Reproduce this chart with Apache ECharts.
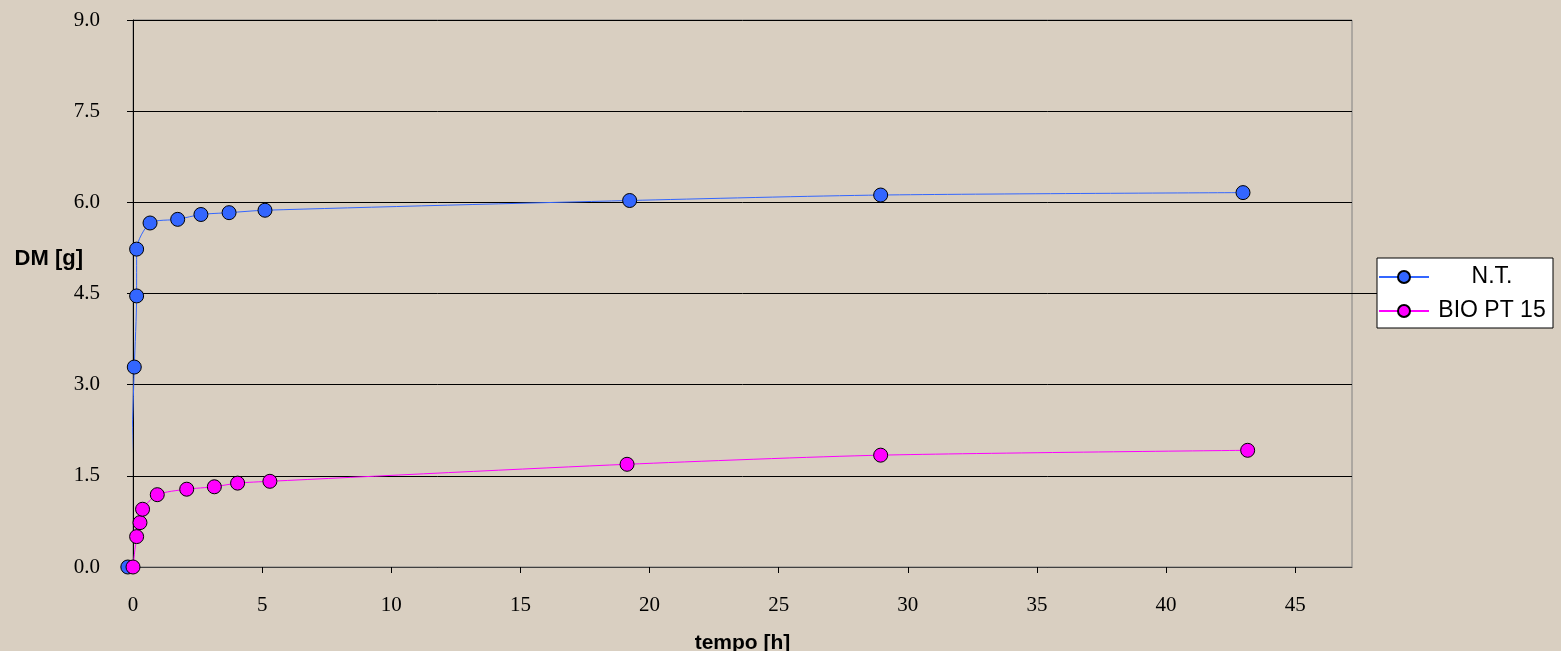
<!DOCTYPE html>
<html><head><meta charset="utf-8">
<script src="https://cdn.jsdelivr.net/npm/echarts@6/dist/echarts.min.js"></script>
<style>html,body{margin:0;padding:0;background:#D9CFC1;}#c{width:1561px;height:651px;}</style>
</head><body><div id="c"></div>
<script>
const seriesNames = ['N.T.', 'BIO PT 15'];
const ntX = [-0.2, 0.05, 0.14, 0.14, 0.66, 1.73, 2.63, 3.72, 5.11, 19.23, 28.95, 42.98];
const ntY = [0.0, 3.29, 4.46, 5.23, 5.66, 5.72, 5.80, 5.83, 5.87, 6.03, 6.12, 6.16];
const bioX = [0.0, 0.14, 0.27, 0.37, 0.94, 2.08, 3.15, 4.05, 5.30, 19.13, 28.95, 43.16];
const bioY = [0.0, 0.50, 0.73, 0.95, 1.19, 1.28, 1.32, 1.38, 1.41, 1.69, 1.84, 1.92];
const xTicks = [0, 5, 10, 15, 20, 25, 30, 35, 40, 45];
const yTicks = [0, 1.5, 3, 4.5, 6, 7.5, 9];
const xName = 'tempo [h]';
const yName = 'DM [g]';

const pairs = (xs, ys) => xs.map((x, i) => [x, ys[i]]);
const chart = echarts.init(document.getElementById('c'), null, {renderer: 'canvas'});
const serif = '"Liberation Serif", "Times New Roman", serif';
const sans = '"Liberation Sans", Arial, sans-serif';
chart.setOption({
  backgroundColor: '#D9CFC1',
  animation: false,
  grid: {left: 133, top: 20, right: 209, bottom: 84, show: true, borderColor: '#808080', borderWidth: 1,
         backgroundColor: 'transparent', containLabel: false, outerBoundsMode: 'none'},
  legend: {
    orient: 'vertical', left: 1377, top: 258,
    backgroundColor: '#FFFFFF', borderColor: '#000', borderWidth: 1,
    padding: [7, 3, 5, 1], itemGap: 10, itemWidth: 50, itemHeight: 15, itemTextGap: 8,
    formatter: '{c|{name}}',
    textStyle: {fontFamily: sans, fontSize: 23, lineHeight: 24, color: '#000',
      rich: {c: {fontFamily: sans, fontSize: 23, lineHeight: 24, color: '#000', width: 116, align: 'center'}}},
    data: seriesNames
  },
  xAxis: {
    type: 'value', min: 0, max: 47.2,
    name: xName, nameLocation: 'middle', nameGap: 66, nameMoveOverlap: false,
    nameTextStyle: {fontFamily: sans, fontSize: 21, fontWeight: 'bold', color: '#000'},
    axisLine: {show: true, onZero: false, lineStyle: {color: '#404040', width: 1}},
    axisTick: {show: true, inside: false, length: 6, lineStyle: {color: '#000'}, customValues: xTicks},
    axisLabel: {fontFamily: serif, fontSize: 21, color: '#000', margin: 28, customValues: xTicks},
    splitLine: {show: false}
  },
  yAxis: {
    type: 'value', min: 0, max: 9, interval: 1.5,
    name: yName, nameLocation: 'middle', nameRotate: 0, nameGap: 50, nameMoveOverlap: false,
    nameTextStyle: {fontFamily: sans, fontSize: 22, fontWeight: 'bold', color: '#000',
      verticalAlign: 'bottom', lineHeight: 70},
    axisLine: {show: true, onZero: false, lineStyle: {color: '#000', width: 1}},
    axisTick: {show: true, inside: false, length: 6, lineStyle: {color: '#000'}},
    axisLabel: {fontFamily: serif, fontSize: 21, color: '#000', margin: 33, formatter: v => v.toFixed(1)},
    splitLine: {show: true, lineStyle: {color: '#000', width: 1}}
  },
  graphic: [
    {type: 'line', shape: {x1: 1352, y1: 293.5, x2: 1377, y2: 293.5}, style: {stroke: '#000', lineWidth: 1}, z: 1}
  ],
  series: [
    {
      name: seriesNames[0], type: 'line', data: pairs(ntX, ntY), smooth: 0.25, clip: false,
      symbol: 'circle', symbolSize: 14,
      lineStyle: {color: '#3366FF', width: 1},
      itemStyle: {color: '#3366FF', borderColor: '#000', borderWidth: 1},
      z: 3
    },
    {
      name: seriesNames[1], type: 'line', data: pairs(bioX, bioY), smooth: 0.25, clip: false,
      symbol: 'circle', symbolSize: 14,
      lineStyle: {color: '#FF00FF', width: 1},
      itemStyle: {color: '#FF00FF', borderColor: '#000', borderWidth: 1},
      z: 4
    }
  ]
});
</script></body></html>
